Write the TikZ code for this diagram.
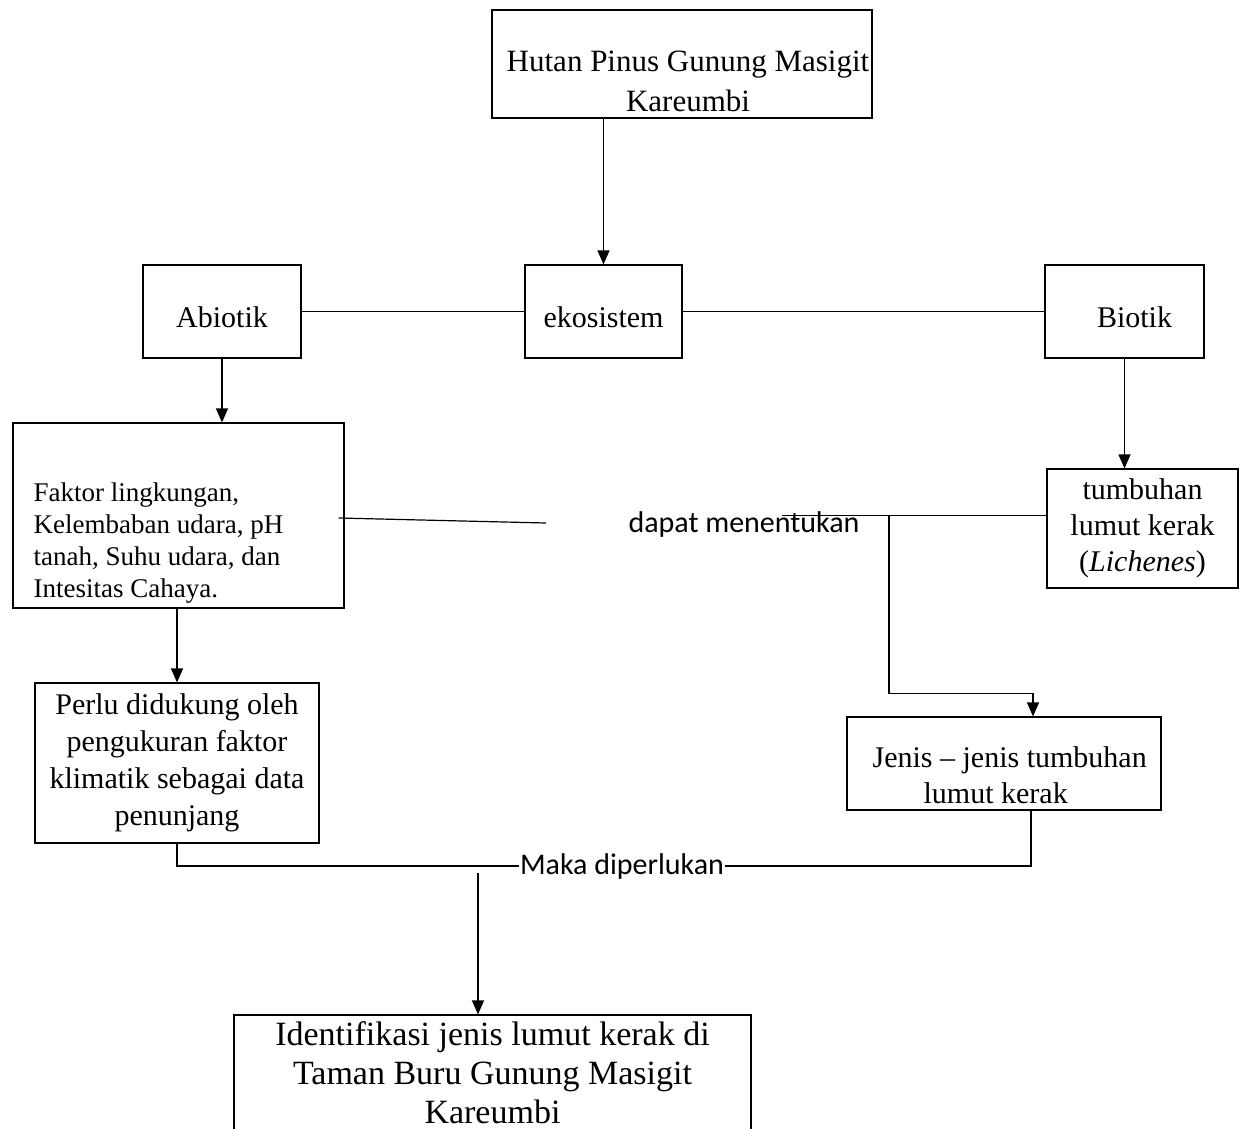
\documentclass[tikz,border=0pt]{standalone}
\usepackage{fontspec}
\setmainfont{Liberation Serif}
\newfontfamily\calibri{Carlito}
\usetikzlibrary{arrows.meta}

\begin{document}
\begin{tikzpicture}[x=1pt,y=-1pt,line width=1.2pt,
		box/.style={draw,rectangle,inner sep=0pt,align=center,font=\fontsize{30}{37}\selectfont},
		kotak/.style={box,minimum height=93pt,text height=32pt,text depth=0pt},
		arr/.style={-{Triangle[width=12pt,length=14pt]}}]
			\useasboundingbox (0,0) rectangle (1244,1128);
			\clip (0,0) rectangle (1244,1128);
			% kotak-kotak
			\node[box,minimum width=380pt,minimum height=108pt] (hutan) at (682,64) {};
			\node[font=\fontsize{31}{40}\selectfont,align=center,inner sep=0pt] (hutantxt) at (688,81) {Hutan Pinus Gunung Masigit\\Kareumbi};
			\node[kotak,minimum width=157pt] (ekosistem) at (603.5,311.5) {ekosistem};
			\node[kotak,minimum width=158pt] (abiotik)   at (222,311.5)   {Abiotik};
			\node[kotak,minimum width=159pt] (biotik)    at (1124.5,311.5) {\hspace*{20pt}Biotik};
			\node[box,minimum width=331pt,minimum height=185pt] (faktor)   at (178.5,515.5) {};
			\node[font=\fontsize{27}{32}\selectfont,align=left,inner sep=0pt,anchor=west] (faktortxt) at (33,543)
				{Faktor lingkungan,\\Kelembaban udara, pH\\tanah, Suhu udara, dan\\Intesitas Cahaya.};
			\node[box,minimum width=191pt,minimum height=119pt,font=\fontsize{30}{36}\selectfont] (tumbuhan) at (1142.5,528.5)
				{tumbuhan\\lumut kerak\\(\textit{Lichenes})};
			\node[box,minimum width=284pt,minimum height=160pt] (perlu) at (177,763)
				{Perlu didukung oleh\\pengukuran faktor\\klimatik sebagai data\\penunjang};
			\node[box,minimum width=314pt,minimum height=93pt] (jenis) at (1004,763.5) {};
			\node[font=\fontsize{30}{36}\selectfont,align=left,inner sep=0pt,anchor=west] (jenistxt) at (872,775)
				{Jenis -- jenis tumbuhan\\\hspace*{51pt}lumut kerak};
			\node[box,minimum width=517pt,minimum height=116pt,font=\fontsize{34}{39}\selectfont] (ident) at (492.5,1073)
				{Identifikasi jenis lumut kerak di\\Taman Buru Gunung Masigit\\Kareumbi};
			% teks penghubung
			\node[font=\calibri\fontsize{30}{36}\selectfont,inner sep=0pt] (dapat) at (744,524) {dapat menentukan};
			\node[font=\calibri\fontsize{30}{36}\selectfont,inner sep=0pt] (maka)  at (622,866) {Maka diperlukan};
			\coordinate (putus)  at (546,523);
			\coordinate (ujung)  at (782,515.5);
			\coordinate (cabang) at (889,515.5);
			\coordinate (turun)  at (478,873);
			
			\draw (abiotik) -- (ekosistem);
			\draw (ekosistem) -- (biotik);
			\draw[arr] (ekosistem.north |- hutan.south) -- (ekosistem.north);
			\draw[arr] (abiotik.south) -- (abiotik.south |- faktor.north);
			\draw[arr] (biotik.south) -- (biotik.south |- tumbuhan.north);
			\draw[arr] (perlu.north |- faktor.south) -- (perlu.north);
			\draw ([xshift=-6pt,yshift=-2.5pt]faktor.east) -- (putus);
			\draw ([yshift=13pt]tumbuhan.west) -- (ujung);
			\draw[arr] (cabang) -- ++(0,178) -| ([xshift=29pt]jenis.north);
			\draw (perlu.south) |- (maka.west);
			\draw (maka.east) -| ([xshift=27pt]jenis.south);
			\draw[arr] (turun) -- (turun |- ident.north);
		\end{tikzpicture}
\end{document}
